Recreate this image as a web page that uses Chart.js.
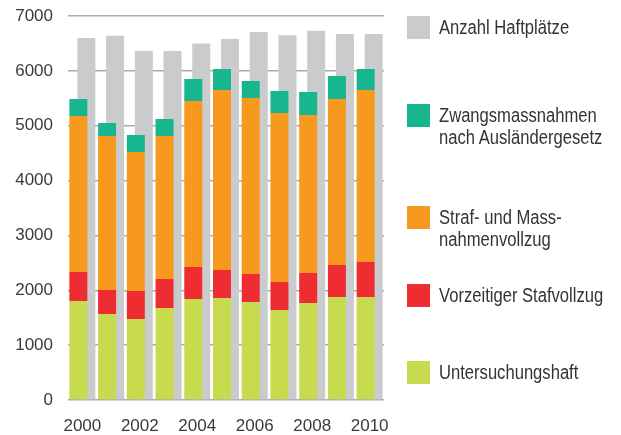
<!DOCTYPE html>
<html>
<head>
<meta charset="utf-8">
<script src="https://cdn.jsdelivr.net/npm/chart.js@4"></script>
<style>
  html, body { margin: 0; padding: 0; background: #fff; }
  #wrap { position: relative; width: 621px; height: 435px; }
  #legend { position: absolute; left: 0; top: 0; width: 621px; height: 435px; pointer-events: none; }
  .item { position: absolute; left: 407px; display: flex; align-items: flex-start; }
  .sw { width: 23px; height: 23px; flex: none; }
  .txt { margin-left: 9px; font-family: "Liberation Sans", Arial, sans-serif; font-size: 20px; line-height: 22px; color: #333; white-space: nowrap; transform: scaleX(0.83); transform-origin: left top; }
</style>
</head>
<body>
<div id="wrap">
  <canvas id="c" width="621" height="435"></canvas>
  <div id="legend"></div>
</div>
<script>
const years = ["2000","2001","2002","2003","2004","2005","2006","2007","2008","2009","2010"];
const untersuchungshaft = [1805, 1568, 1477, 1677, 1841, 1859, 1786, 1641, 1768, 1878, 1878];
const vorzeitiger = [528, 437, 510, 529, 583, 511, 511, 510, 547, 583, 638];
const strafvollzug = [2844, 2807, 2534, 2606, 3027, 3281, 3208, 3081, 2880, 3026, 3135];
const zwangsmassnahmen = [310, 237, 310, 310, 401, 383, 310, 401, 420, 419, 383];
const haftplaetze = [6600, 6640, 6360, 6360, 6500, 6580, 6710, 6650, 6730, 6670, 6670];
const yTicks = [0, 1000, 2000, 3000, 4000, 5000, 6000, 7000];

const colors = {
  unters: "#c8db4e",
  vorz: "#ee2d32",
  straf: "#f7981f",
  zwang: "#17b68e",
  haft: "#cacbcd"
};

const legendItems = [
  { label: ["Anzahl Haftplätze"], color: colors.haft, top: 16 },
  { label: ["Zwangsmassnahmen", "nach Ausländergesetz"], color: colors.zwang, top: 104 },
  { label: ["Straf- und Mass-", "nahmenvollzug"], color: colors.straf, top: 206 },
  { label: ["Vorzeitiger Stafvollzug"], color: colors.vorz, top: 284 },
  { label: ["Untersuchungshaft"], color: colors.unters, top: 361 }
];

const common = { categoryPercentage: 0.557, barPercentage: 2.25, borderWidth: 0 };

new Chart(document.getElementById("c"), {
  type: "bar",
  data: {
    labels: years,
    datasets: [
      Object.assign({ label: "Untersuchungshaft", data: untersuchungshaft, backgroundColor: colors.unters, stack: "a" }, common),
      Object.assign({ label: "Vorzeitiger Stafvollzug", data: vorzeitiger, backgroundColor: colors.vorz, stack: "a" }, common),
      Object.assign({ label: "Straf- und Massnahmenvollzug", data: strafvollzug, backgroundColor: colors.straf, stack: "a" }, common),
      Object.assign({ label: "Zwangsmassnahmen nach Ausländergesetz", data: zwangsmassnahmen, backgroundColor: colors.zwang, stack: "a" }, common),
      Object.assign({ label: "Anzahl Haftplätze", data: haftplaetze, backgroundColor: colors.haft, stack: "b" }, common)
    ]
  },
  options: {
    responsive: false,
    animation: false,
    layout: { padding: { top: 16, right: 237, left: 0, bottom: 0 } },
    plugins: { legend: { display: false }, tooltip: { enabled: false } },
    scales: {
      x: {
        stacked: true,
        grid: { display: false },
        border: { display: false },
        ticks: {
          autoSkip: false, maxRotation: 0, padding: 8,
          color: "#3a3a3a",
          font: { family: "'Liberation Sans', Arial, sans-serif", size: 17 },
          callback: function(v, i) { return i % 2 === 0 ? this.getLabelForValue(v) : ""; }
        },
        afterFit: s => { s.height = 35; s.paddingTop = 0; s.paddingBottom = 0; }
      },
      y: {
        stacked: true,
        min: 0, max: 7000,
        afterBuildTicks: s => { s.ticks = yTicks.map(v => ({ value: v })); },
        grid: { color: "#ababab", lineWidth: 1.5, drawTicks: false },
        border: { display: false },
        ticks: {
          padding: 15,
          color: "#3a3a3a",
          font: { family: "'Liberation Sans', Arial, sans-serif", size: 17 },
          callback: v => String(v)
        },
        afterFit: s => { s.width = 68; s.paddingTop = 0; s.paddingBottom = 0; }
      }
    }
  }
});

const lg = document.getElementById("legend");
legendItems.forEach(it => {
  const d = document.createElement("div");
  d.className = "item";
  d.style.top = it.top + "px";
  const sw = document.createElement("div");
  sw.className = "sw";
  sw.style.background = it.color;
  const t = document.createElement("div");
  t.className = "txt";
  t.innerHTML = it.label.join("<br>");
  d.appendChild(sw); d.appendChild(t);
  lg.appendChild(d);
});
</script>
</body>
</html>
